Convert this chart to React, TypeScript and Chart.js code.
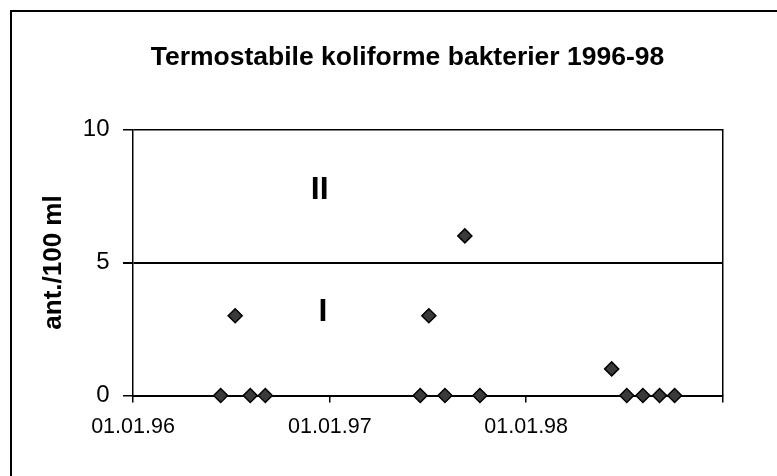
import React, { useEffect, useRef } from "react";
import { Chart, registerables } from "chart.js";

Chart.register(...registerables);

// ---- data ----
const chartTitle = "Termostabile koliforme bakterier 1996-98";
const yAxisTitle = "ant./100 ml";
const axisStartDate = "1996-01-01";
const axisEndDate = "1999-01-01";
const sampleDates = [
  "1996-06-12", "1996-07-09", "1996-08-06", "1996-09-03",
  "1997-06-18", "1997-07-04", "1997-08-03", "1997-09-09", "1997-10-07",
  "1998-06-09", "1998-07-07", "1998-08-06", "1998-09-06", "1998-10-04",
];
const sampleValues = [0, 3, 0, 0, 0, 3, 0, 6, 0, 1, 0, 0, 0, 0];
const xTickDates = ["1996-01-01", "1997-01-01", "1998-01-01", "1999-01-01"];
const xTickLabels = ["01.01.96", "01.01.97", "01.01.98", ""];
const yTicks = [0, 5, 10];
const zoneLabels = ["II", "I"];
const zoneLabelDates = ["1996-12-13", "1996-12-19"];
const zoneLabelValues = [7.72, 3.14];

const FONT = "'Liberation Sans', Arial, Helvetica, sans-serif";

function dayOf(iso: string): number {
  const [y, m, d] = iso.split("-").map(Number);
  const [y0, m0, d0] = axisStartDate.split("-").map(Number);
  return (Date.UTC(y, m - 1, d) - Date.UTC(y0, m0 - 1, d0)) / 86400000;
}

const titlePlugin = {
  id: "customTitle",
  afterDraw(chart: any) {
    const { ctx } = chart;
    ctx.save();
    ctx.fillStyle = "#000";
    ctx.font = `bold 26.5px ${FONT}`;
    ctx.textAlign = "center";
    ctx.textBaseline = "alphabetic";
    ctx.fillText(chartTitle, 407.5, 65);
    ctx.restore();
  },
};

const zonePlugin = {
  id: "zoneLabels",
  afterDatasetsDraw(chart: any) {
    const { ctx, scales } = chart;
    ctx.save();
    ctx.fillStyle = "#000";
    ctx.font = `bold 32px ${FONT}`;
    ctx.textAlign = "center";
    ctx.textBaseline = "middle";
    zoneLabels.forEach((t, i) => {
      const x = scales.x.getPixelForValue(dayOf(zoneLabelDates[i]));
      const y = scales.y.getPixelForValue(zoneLabelValues[i]);
      ctx.fillText(t, x, y);
    });
    ctx.restore();
  },
};

export default function App() {
  const ref = useRef<HTMLCanvasElement>(null);

  useEffect(() => {
    if (!ref.current) return;
    const points = sampleDates.map((d, i) => ({ x: dayOf(d), y: sampleValues[i] }));
    const tickDays = xTickDates.map(dayOf);
    const chart = new Chart(ref.current, {
      type: "scatter",
      data: {
        datasets: [
          {
            data: points,
            pointStyle: "rectRot",
            pointRadius: 7,
            pointHoverRadius: 7,
            pointBorderWidth: 1.5,
            backgroundColor: "#3a3a3a",
            borderColor: "#000",
            showLine: false,
            clip: false as any,
          },
        ],
      },
      options: {
        animation: false,
        responsive: false,
        maintainAspectRatio: false,
        events: [],
        layout: { padding: { left: 20, right: 54.5, top: 129.5, bottom: 0 } },
        plugins: {
          legend: { display: false },
          tooltip: { enabled: false },
          title: { display: false },
        },
        scales: {
          x: {
            type: "linear",
            min: dayOf(axisStartDate),
            max: dayOf(axisEndDate),
            afterBuildTicks: (s: any) => {
              s.ticks = tickDays.map((v) => ({ value: v }));
            },
            afterFit: (s: any) => {
              s.height = 80.5;
            },
            ticks: {
              autoSkip: false,
              maxRotation: 0,
              color: "#000",
              padding: 11.5,
              font: { family: FONT, size: 21.5 },
              callback: (v: any) => {
                const i = tickDays.indexOf(Number(v));
                return i >= 0 ? xTickLabels[i] : "";
              },
            },
            grid: {
              drawOnChartArea: false,
              drawTicks: true,
              tickLength: 7,
              color: "#000",
              lineWidth: 1.5,
            },
            border: { display: true, color: "#000", width: 2 },
          },
          y: {
            type: "linear",
            min: yTicks[0],
            max: yTicks[yTicks.length - 1],
            afterBuildTicks: (s: any) => {
              s.ticks = yTicks.map((v) => ({ value: v }));
            },
            afterFit: (s: any) => {
              s.width = 113;
            },
            ticks: {
              color: "#000",
              padding: 13.5,
              font: { family: FONT, size: 24 },
            },
            grid: {
              color: "#000",
              lineWidth: (c: any) => (c.tick && c.tick.value === 5 ? 2 : 1.5),
              drawTicks: true,
              tickLength: 10,
            },
            border: { display: true, color: "#000", width: 1.5 },
            title: {
              display: true,
              text: yAxisTitle,
              color: "#000",
              font: { family: FONT, size: 26, weight: "bold", lineHeight: 1.2 },
              padding: { top: 18.7, bottom: 0 },
            },
          },
          y2: {
            type: "linear",
            position: "right",
            min: 0,
            max: 10,
            afterFit: (s: any) => {
              s.width = 0;
            },
            ticks: { display: false },
            grid: { display: false },
            border: { display: true, color: "#000", width: 1.5 },
          },
        },
      },
      plugins: [zonePlugin, titlePlugin],
    });
    return () => chart.destroy();
  }, []);

  return (
    <div
      style={{
        position: "fixed",
        left: 0,
        top: 0,
        width: 777,
        height: 476,
        overflow: "hidden",
        background: "#fff",
      }}
    >
      <div
        style={{
          position: "absolute",
          left: 10,
          top: 10,
          width: 800,
          height: 500,
          borderLeft: "2px solid #000",
          borderTop: "2px solid #000",
        }}
      />
      <canvas
        ref={ref}
        width={777}
        height={476}
        style={{ position: "absolute", left: 0, top: 0, width: 777, height: 476 }}
      />
    </div>
  );
}
